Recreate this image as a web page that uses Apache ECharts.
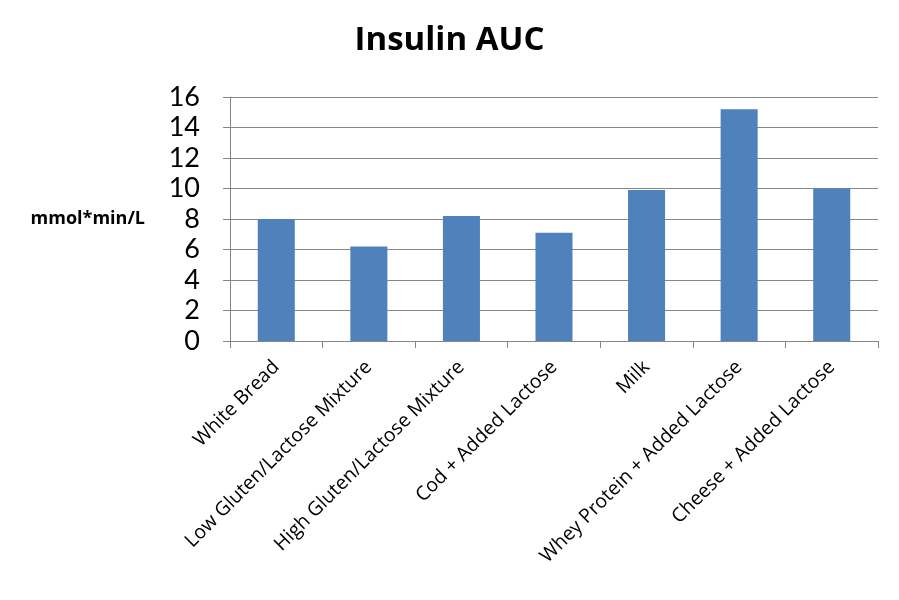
<!DOCTYPE html>
<html>
<head>
<meta charset="utf-8">
<script src="https://cdn.jsdelivr.net/npm/echarts@6/dist/echarts.min.js"></script>
<style>
  html, body { margin: 0; padding: 0; background: #fff; }
  #chart { width: 899px; height: 600px; }
</style>
</head>
<body>
<div id="chart"></div>
<script>
var categories = ['White Bread', 'Low Gluten/Lactose Mixture', 'High Gluten/Lactose Mixture',
    'Cod + Added Lactose', 'Milk', 'Whey Protein + Added Lactose', 'Cheese + Added Lactose'];
var insulinAuc = [8.0, 6.2, 8.2, 7.1, 9.9, 15.2, 10.0];

var font = '"Open Sans", Lato, sans-serif';

var myChart = echarts.init(document.getElementById('chart'));
myChart.setOption({
    animation: false,
    title: {
        text: 'Insulin AUC',
        left: 'center',
        top: 19,
        textStyle: {
            fontFamily: font,
            fontSize: 33,
            fontWeight: 'bold',
            color: '#000'
        }
    },
    grid: {
        left: 230,
        right: 21,
        top: 97,
        bottom: 259
    },
    xAxis: {
        type: 'category',
        data: categories,
        axisLine: { lineStyle: { color: '#868686' } },
        axisTick: { show: true, length: 7, alignWithLabel: false, lineStyle: { color: '#868686' } },
        axisLabel: {
            rotate: 45,
            margin: 23,
            interval: 0,
            fontFamily: font,
            fontSize: 19.5,
            color: '#000'
        }
    },
    yAxis: {
        type: 'value',
        min: 0,
        max: 16,
        interval: 2,
        name: 'mmol*min/L',
        nameLocation: 'middle',
        nameRotate: 0,
        nameGap: 85,
        nameTextStyle: {
            fontFamily: font,
            fontSize: 18,
            fontWeight: 'bold',
            color: '#000',
            align: 'right'
        },
        axisLine: { show: true, lineStyle: { color: '#868686' } },
        axisTick: { show: true, length: 7, lineStyle: { color: '#868686' } },
        splitLine: { lineStyle: { color: '#868686' } },
        axisLabel: {
            margin: 30,
            fontFamily: 'Lato, sans-serif',
            fontSize: 27,
            color: '#000'
        }
    },
    series: [
        {
            name: 'Insulin AUC',
            type: 'bar',
            barWidth: '40%',
            data: insulinAuc,
            itemStyle: { color: '#4F81BD' }
        }
    ]
});
</script>
</body>
</html>
